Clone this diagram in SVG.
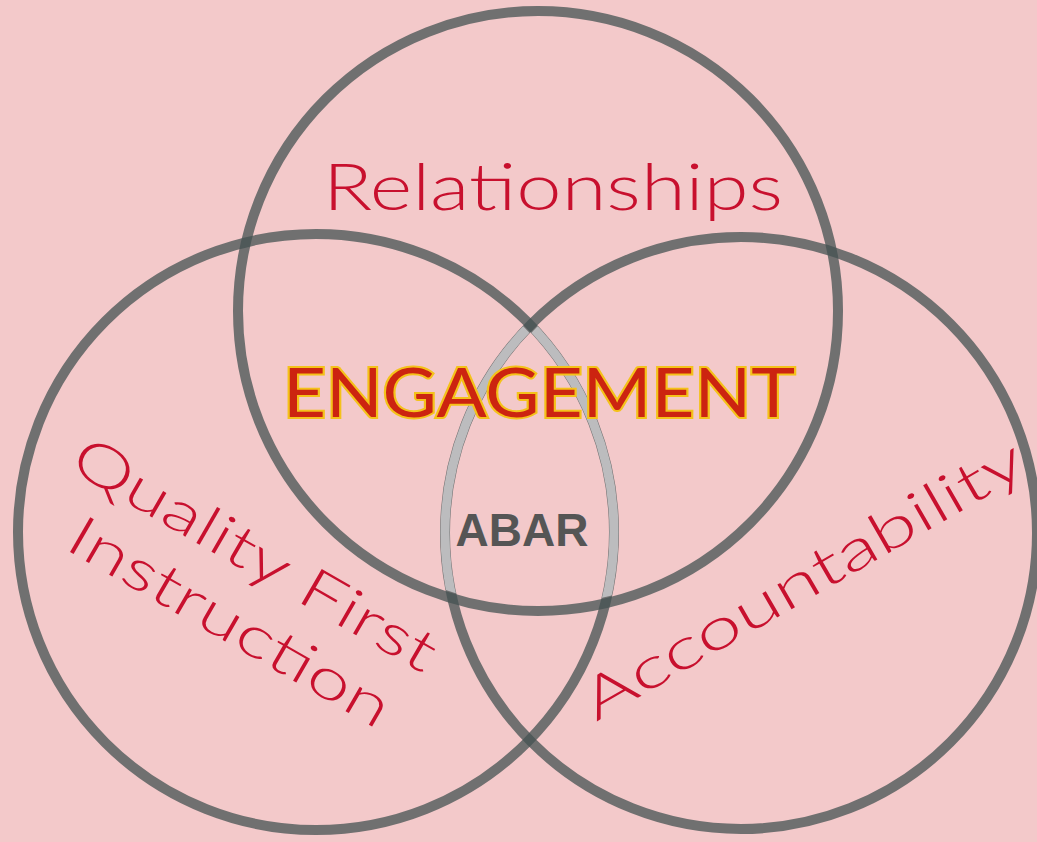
<svg xmlns="http://www.w3.org/2000/svg" width="1037" height="842" viewBox="0 0 1037 842">
  <style>
    .ring { fill: none; stroke: #445252; stroke-opacity: 0.75; stroke-width: 10; }
    .lens { fill: none; stroke: #bcbcbe; stroke-width: 9; }
    .lbl { fill: #c8102e; font-family: Lato, "Noto Sans", sans-serif; font-weight: 300; }
  </style>
  <defs>
    <clipPath id="inTop"><circle cx="538" cy="311" r="294"/></clipPath>
    <clipPath id="inRight"><circle cx="741" cy="533" r="290"/></clipPath>
    <clipPath id="inLeft"><circle cx="316" cy="532" r="292"/></clipPath>
  </defs>
  <rect width="1037" height="842" fill="#f3c9ca"/>
  <g id="circles">
    <circle id="circle-top" class="ring" cx="538" cy="311" r="300"/>
    <circle id="circle-left" class="ring" cx="316" cy="532" r="298"/>
    <circle id="circle-right" class="ring" cx="741" cy="533" r="296"/>
    <g id="lens" clip-path="url(#inTop)">
      <g clip-path="url(#inRight)"><circle class="lens" cx="316" cy="532" r="298"/></g>
      <g clip-path="url(#inLeft)"><circle class="lens" cx="741" cy="533" r="296"/></g>
    </g>
  </g>
  <g id="relationships">
    <text class="lbl" x="323" y="210" font-size="65" textLength="460" lengthAdjust="spacingAndGlyphs">Relationships</text>
  </g>
  <g id="engagement">
    <text x="283" y="417" font-family="Lato, 'Noto Sans', sans-serif" font-weight="400" font-size="68" fill="#cc2410" stroke="#f4c21a" stroke-width="4" paint-order="stroke" textLength="512" lengthAdjust="spacingAndGlyphs">ENGAGEMENT</text>
  </g>
  <g id="abar">
    <text x="522" y="546" text-anchor="middle" font-family="'Liberation Sans', Arial, sans-serif" font-weight="bold" font-size="46" fill="#555555">ABAR</text>
  </g>
  <g id="quality-first-instruction" transform="translate(63,548) rotate(30)">
    <text class="lbl" x="-36" y="-71" font-size="57" textLength="411" lengthAdjust="spacingAndGlyphs">Quality First</text>
    <text class="lbl" x="0" y="0" font-size="57" textLength="363" lengthAdjust="spacingAndGlyphs">Instruction</text>
  </g>
  <g id="accountability" transform="translate(596,722) rotate(-30)">
    <text class="lbl" x="0" y="0" font-size="57" textLength="500" lengthAdjust="spacingAndGlyphs">Accountability</text>
  </g>
</svg>
